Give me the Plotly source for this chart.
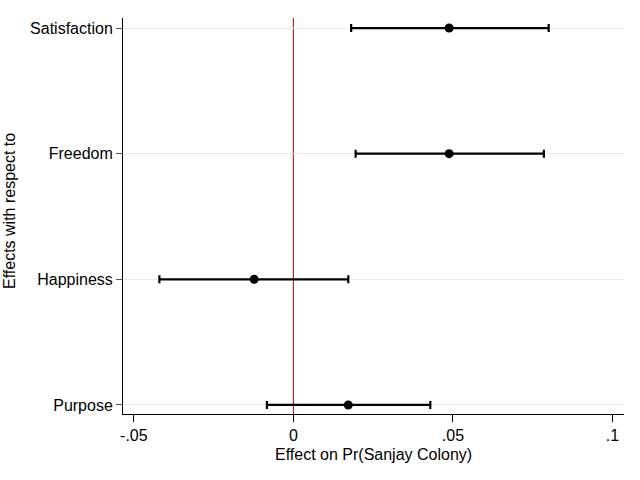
import plotly.graph_objects as go

categories = ["Satisfaction", "Freedom", "Happiness", "Purpose"]
positions = [4, 3, 2, 1]
estimates = [0.0488, 0.0488, -0.0123, 0.0172]
ci_low = [0.0181, 0.0195, -0.0420, -0.0083]
ci_high = [0.0800, 0.0785, 0.0172, 0.0429]
xtick_vals = [-0.05, 0, 0.05, 0.1]
xtick_text = ["-.05", "0", ".05", ".1"]

plus = [h - e for h, e in zip(ci_high, estimates)]
minus = [e - l for e, l in zip(estimates, ci_low)]

fig = go.Figure()
fig.add_trace(go.Scatter(
    x=estimates, y=positions, mode="markers",
    marker=dict(color="black", size=9),
    error_x=dict(type="data", symmetric=False, array=plus, arrayminus=minus,
                 color="black", thickness=2.2, width=4),
    showlegend=False,
))
fig.add_shape(type="line", x0=0, x1=0, y0=0, y1=1, xref="x", yref="paper",
              line=dict(color="#a82a32", width=1.2), layer="below")

font = dict(family="Liberation Sans, Arial, Helvetica, sans-serif", size=16, color="black")
fig.update_layout(
    width=640, height=480,
    margin=dict(l=123, r=16, t=18, b=66),
    plot_bgcolor="white", paper_bgcolor="white",
    font=font,
    xaxis=dict(range=[-0.0534, 0.1036], tickvals=xtick_vals, ticktext=xtick_text,
               showgrid=False, zeroline=False, showline=True, linecolor="black",
               linewidth=1, ticks="outside", ticklen=7, tickcolor="black",
               automargin=False, tickfont=font),
    yaxis=dict(range=[0.928, 4.08], tickvals=positions, ticktext=categories,
               showgrid=True, gridcolor="#e6edf0", gridwidth=1, zeroline=False,
               showline=True, linecolor="black", linewidth=1,
               ticks="outside", ticklen=6, tickcolor="#555555",
               automargin=False, tickfont=font),
    annotations=[
        dict(text="Effect on Pr(Sanjay Colony)", xref="paper", yref="paper",
             x=0.5, y=0, xanchor="center", yanchor="middle", yshift=-40,
             showarrow=False, font=font),
        dict(text="Effects with respect to", xref="paper", yref="paper",
             x=0, y=0.5, xanchor="center", yanchor="middle", xshift=-114, yshift=5,
             textangle=-90, showarrow=False, font=font),
    ],
)
fig.write_html(
    "out.html",
    config={"displayModeBar": False},
    post_script="document.body.style.margin='0';document.body.style.overflow='hidden';",
)
